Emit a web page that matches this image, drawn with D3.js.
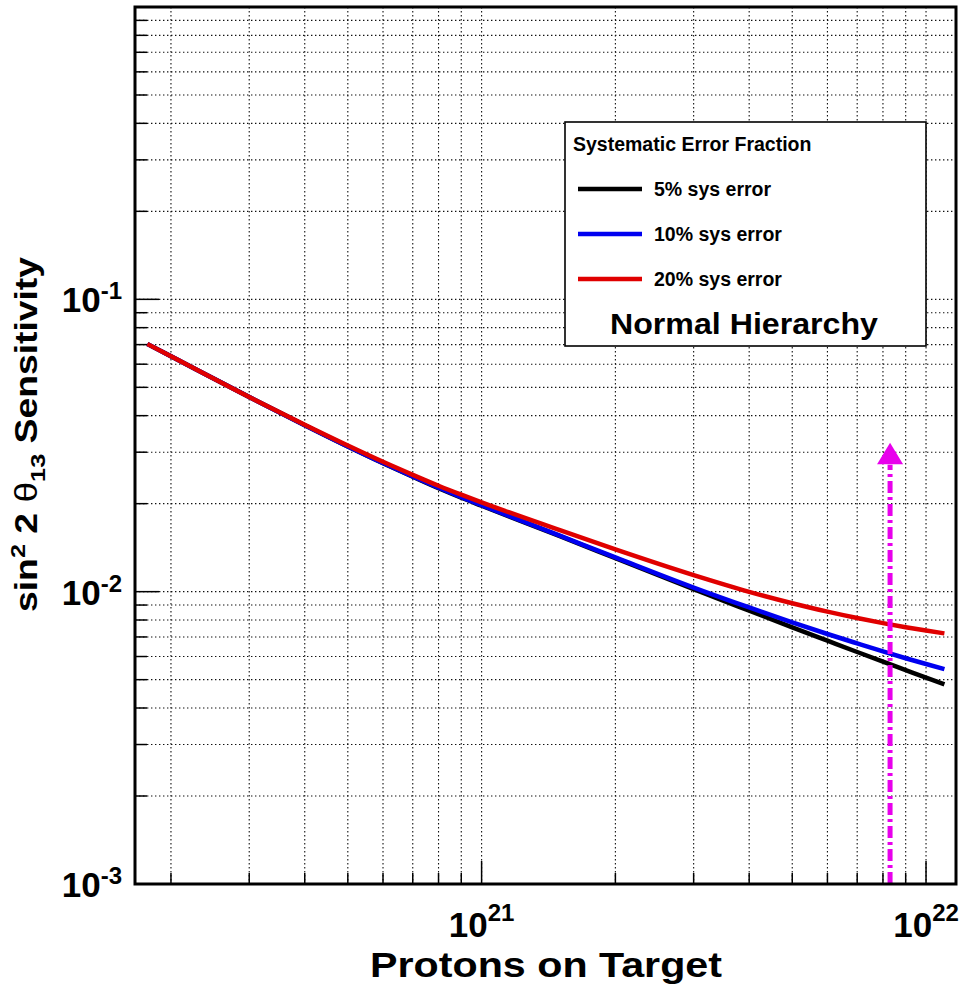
<!DOCTYPE html>
<html>
<head>
<meta charset="utf-8">
<script src="https://cdn.jsdelivr.net/npm/d3@7"></script>
<style>
  body { margin: 0; background: #fff; }
  svg { display: block; font-family: 'Liberation Sans', Arial, Helvetica, sans-serif; font-weight: bold; }
</style>
</head>
<body>
<div id="chart"></div>
<script>
// protons on target and sin^2 2theta13 sensitivity for each systematic error fraction
const pot = [1.77e20, 2e20, 3e20, 4e20, 5e20, 6e20, 7e20, 8e20, 9e20, 1e21, 1.5e21, 2e21, 3e21, 4e21, 5e21, 6e21, 7e21, 8e21, 9e21, 1e22, 1.1e22]
const sys5 = [0.07034, 0.06385, 0.04631, 0.03709, 0.03136, 0.02749, 0.02471, 0.02258, 0.02096, 0.01968, 0.01548, 0.01302, 0.01020, 0.008609, 0.007553, 0.006796, 0.006217, 0.005760, 0.005391, 0.005081, 0.004820]
const sys10 = [0.07034, 0.06385, 0.04631, 0.03712, 0.03141, 0.02755, 0.02479, 0.02267, 0.02106, 0.01976, 0.01554, 0.01310, 0.01033, 0.008828, 0.007850, 0.007164, 0.006653, 0.006246, 0.005920, 0.005656, 0.005433]
const sys20 = [0.07034, 0.06385, 0.04631, 0.03723, 0.03161, 0.02781, 0.02510, 0.02303, 0.02146, 0.02020, 0.01623, 0.01395, 0.01139, 0.009988, 0.009130, 0.008542, 0.008123, 0.007807, 0.007559, 0.007362, 0.007199]

const seriesNames = ['5% sys error', '10% sys error', '20% sys error']
const seriesColors = ['#000000', '#0000f0', '#e00000']
const legendTitle = 'Systematic Error Fraction'
const hierarchyLabel = 'Normal Hierarchy'

const xDomain = [1.66e20, 1.168e22]
const yDomain = [1e-3, 1]
const xLabelTicks = [1e21, 1e22]
const yLabelTicks = [1e-3, 1e-2, 1e-1]

// beam target marker (dash-dot arrow)
const markerPot = 8.3e21
const markerTop = 0.0323

const width = 965
const height = 987
const margin = { top: 7, right: 9, bottom: 103, left: 135 }
const plotW = width - margin.left - margin.right
const plotH = height - margin.top - margin.bottom

const svg = d3.select('#chart')
  .append('svg')
    .attr('width', width)
    .attr('height', height)

const x = d3.scaleLog()
  .domain(xDomain)
  .range([0, plotW])

const y = d3.scaleLog()
  .domain(yDomain)
  .range([plotH, 0])

const g = svg.append('g')
  .attr('transform', `translate(${margin.left}, ${margin.top})`)

// all decade + minor positions inside the frame
function logTicks(domain) {
  const out = []
  const lo = Math.floor(Math.log10(domain[0]))
  const hi = Math.ceil(Math.log10(domain[1]))
  for (let e = lo; e <= hi; e++) {
    for (let m = 1; m <= 9; m++) {
      const v = m * Math.pow(10, e)
      if (v > domain[0] * 1.001 && v < domain[1] * 0.999) out.push(v)
    }
  }
  return out
}
const isDecade = v => Math.abs(Math.log10(v) - Math.round(Math.log10(v))) < 1e-6

const xTicks = logTicks(xDomain)
const yTicks = logTicks(yDomain)

// grid
g.append('g')
  .selectAll('line')
  .data(xTicks)
  .enter()
  .append('line')
    .attr('x1', d => x(d))
    .attr('x2', d => x(d))
    .attr('y1', 0)
    .attr('y2', plotH)
    .attr('stroke', '#111')
    .attr('stroke-width', 1.1)
    .attr('stroke-dasharray', '1.4,2.6')

g.append('g')
  .selectAll('line')
  .data(yTicks)
  .enter()
  .append('line')
    .attr('x1', 0)
    .attr('x2', plotW)
    .attr('y1', d => y(d))
    .attr('y2', d => y(d))
    .attr('stroke', '#111')
    .attr('stroke-width', 1.1)
    .attr('stroke-dasharray', '1.4,2.6')

// ticks (left and bottom only)
g.append('g')
  .selectAll('line')
  .data(xTicks)
  .enter()
  .append('line')
    .attr('x1', d => x(d))
    .attr('x2', d => x(d))
    .attr('y1', plotH)
    .attr('y2', d => plotH - (isDecade(d) ? 23 : 11))
    .attr('stroke', '#000')
    .attr('stroke-width', 1.5)

g.append('g')
  .selectAll('line')
  .data(yTicks)
  .enter()
  .append('line')
    .attr('x1', 0)
    .attr('x2', d => isDecade(d) ? 24 : 12)
    .attr('y1', d => y(d))
    .attr('y2', d => y(d))
    .attr('stroke', '#000')
    .attr('stroke-width', 1.5)

// curves
const line = d3.line()
  .x(d => x(d[0]))
  .y(d => y(d[1]))
  .curve(d3.curveMonotoneX)

const series = [sys5, sys10, sys20]
series.forEach((vals, i) => {
  g.append('path')
    .attr('d', line(pot.map((p, j) => [p, vals[j]])))
    .attr('fill', 'none')
    .attr('stroke', seriesColors[i])
    .attr('stroke-width', 4.5)
    .attr('stroke-linejoin', 'round')
})

// dash-dot arrow
const ax = x(markerPot)
const headTop = y(markerTop)
g.append('line')
  .attr('x1', ax)
  .attr('x2', ax)
  .attr('y1', y(yDomain[0]))
  .attr('y2', headTop + 22)
  .attr('stroke', '#e800ec')
  .attr('stroke-width', 5)
  .attr('stroke-dasharray', '12,4,3,4')

g.append('path')
  .attr('d', `M${ax},${headTop} L${ax - 13},${headTop + 21.5} L${ax + 13},${headTop + 21.5} Z`)
  .attr('fill', '#e800ec')

// legend
const legend = svg.append('g')
  .attr('transform', 'translate(565, 122)')

legend.append('rect')
  .attr('width', 361)
  .attr('height', 224)
  .attr('fill', '#fff')
  .attr('stroke', '#000')
  .attr('stroke-width', 1.6)

legend.append('text')
  .attr('x', 8)
  .attr('y', 28.5)
  .attr('font-size', 19.5)
  .text(legendTitle)

seriesNames.forEach((name, i) => {
  const ly = 67 + i * 45
  legend.append('line')
    .attr('x1', 13)
    .attr('x2', 77)
    .attr('y1', ly)
    .attr('y2', ly)
    .attr('stroke', seriesColors[i])
    .attr('stroke-width', 4.5)
  legend.append('text')
    .attr('x', 89)
    .attr('y', ly + 7)
    .attr('font-size', 19.5)
    .text(name)
})

legend.append('text')
  .attr('x', 179)
  .attr('y', 212)
  .attr('text-anchor', 'middle')
  .attr('font-size', 29)
  .attr('textLength', 268)
  .attr('lengthAdjust', 'spacingAndGlyphs')
  .text(hierarchyLabel)

// tick labels 10^n
xLabelTicks.forEach(v => {
  const t = svg.append('text')
    .attr('x', margin.left + x(v))
    .attr('y', margin.top + plotH + 53)
    .attr('text-anchor', 'middle')
    .attr('font-size', 35)
  t.append('tspan').text('10')
  t.append('tspan')
    .attr('font-size', 24)
    .attr('dy', -16)
    .text(Math.round(Math.log10(v)))
})

yLabelTicks.forEach(v => {
  const t = svg.append('text')
    .attr('x', margin.left - 13)
    .attr('y', margin.top + y(v) + 13)
    .attr('text-anchor', 'end')
    .attr('font-size', 35)
  t.append('tspan').text('10')
  t.append('tspan')
    .attr('font-size', 24)
    .attr('dy', -13)
    .text(Math.round(Math.log10(v)))
})

// axis titles
svg.append('text')
  .attr('x', 546)
  .attr('y', 977)
  .attr('text-anchor', 'middle')
  .attr('font-size', 35)
  .attr('textLength', 352)
  .attr('lengthAdjust', 'spacingAndGlyphs')
  .text('Protons on Target')

const yTitle = svg.append('text')
  .attr('transform', 'translate(37, 434.5) rotate(-90)')
  .attr('text-anchor', 'middle')
  .attr('font-size', 31)
  .attr('textLength', 355)
  .attr('lengthAdjust', 'spacingAndGlyphs')
yTitle.append('tspan').text('sin')
yTitle.append('tspan').attr('font-size', 21).attr('dy', -12).text('2')
yTitle.append('tspan').attr('dy', 12).text(' 2 ')
yTitle.append('tspan').attr('font-weight', 'normal').text('θ')
yTitle.append('tspan').attr('font-size', 21).attr('dy', 8).text('13')
yTitle.append('tspan').attr('dy', -8).text(' Sensitivity')

// frame
g.append('rect')
  .attr('width', plotW)
  .attr('height', plotH)
  .attr('fill', 'none')
  .attr('stroke', '#000')
  .attr('stroke-width', 3)
</script>
</body>
</html>
